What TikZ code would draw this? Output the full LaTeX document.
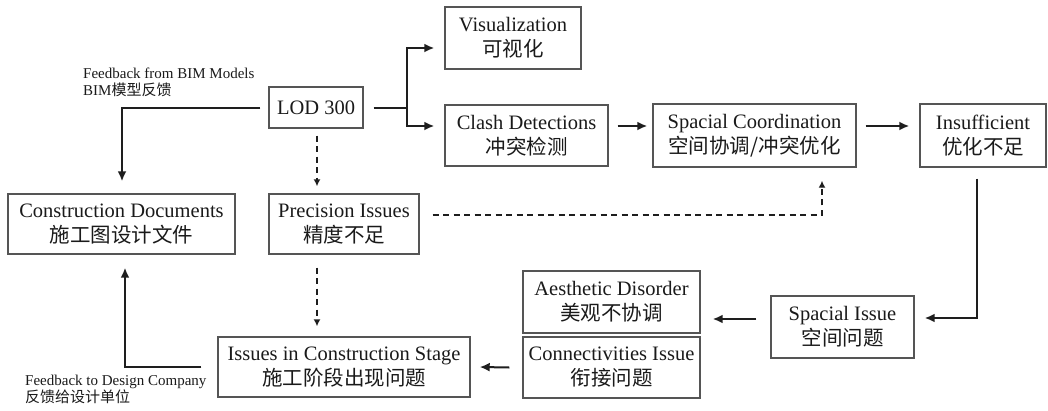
\documentclass[tikz,border=0pt]{standalone}
\usepackage{fontspec}
\setmainfont{Liberation Serif}
\newfontfamily\cjk{Noto Sans CJK SC}
\usetikzlibrary{arrows.meta,calc}
\definecolor{boxgray}{HTML}{555555}
\definecolor{linec}{HTML}{1E1E1E}
\definecolor{txt}{HTML}{1A1A1A}
\begin{document}
\begin{tikzpicture}[x=1pt,y=-1pt,
  box/.style={draw=boxgray, line width=1.4pt, inner sep=0pt, align=center, text=txt, font=\fontsize{20.5}{25}\selectfont},
  arr/.style={draw=linec, line width=2pt, -{Latex[length=10pt,width=9pt]}},
  darr/.style={draw=linec, line width=1.6pt, dash pattern=on 6pt off 4.5pt, -{Latex[length=7pt,width=7pt]}},
  lbl/.style={align=left, text=txt, font=\fontsize{15}{17}\selectfont, inner sep=0pt}]
\useasboundingbox (0,0) rectangle (1048,410);
\fill[white] (0,0) rectangle (1048,410);
% boxes
\node[box, minimum width=136pt, minimum height=62pt] (vis) at (513,38) {Visualization\\{\cjk 可视化}};
\node[box, minimum width=94pt, minimum height=41pt] (lod) at (316,107.5) {LOD 300};
\node[box, minimum width=163pt, minimum height=61pt] (clash) at (526.5,135.5) {Clash Detections\\{\cjk 冲突检测}};
\node[box, minimum width=203pt, minimum height=63pt] (sc) at (754.5,135.5) {Spacial Coordination\\{\cjk 空间协调/冲突优化}};
\node[box, minimum width=126pt, minimum height=63pt] (ins) at (983,135.5) {Insufficient\\{\cjk 优化不足}};
\node[box, minimum width=227pt, minimum height=60pt] (cd) at (121.5,224) {Construction Documents\\{\cjk 施工图设计文件}};
\node[box, minimum width=150pt, minimum height=60pt] (pi) at (344,224) {Precision Issues\\{\cjk 精度不足}};
\node[box, minimum width=252pt, minimum height=60pt] (ics) at (344,367) {Issues in Construction Stage\\{\cjk 施工阶段出现问题}};
\node[box, minimum width=177pt, minimum height=62pt] (ad) at (611.5,302) {Aesthetic Disorder\\{\cjk 美观不协调}};
\node[box, minimum width=177pt, minimum height=61pt] (ci) at (611.5,367.5) {Connectivities Issue\\{\cjk 衔接问题}};
\node[box, minimum width=143pt, minimum height=62pt] (si) at (842.5,327) {Spacial Issue\\{\cjk 空间问题}};
% labels
\node[lbl, anchor=north west] (fb1) at (83,68) {Feedback from BIM Models\\BIM{\cjk 模型反馈}};
\node[lbl, anchor=north west] (fb2) at (25,375) {Feedback to Design Company\\{\cjk 反馈给设计单位}};
% connectors
\coordinate (br) at ($(lod.east)+(43,0)$);
\draw[draw=linec, line width=2pt] ($(lod.east)+(10,0)$) -- (br);
\draw[arr] ($(br)+(0,1)$) |- ($(vis.west)+(-10,10)$);
\draw[arr] ($(br)+(0,-1)$) |- ($(clash.west)+(-10,-9.5)$);
\draw[arr] ($(clash.east)+(9,-9.5)$) -- ($(sc.west)+(-5,-9.5)$);
\draw[arr] ($(sc.east)+(9,-9.5)$) -- ($(ins.west)+(-10,-9.5)$);
\draw[arr] ($(ins.south)+(-6,11)$) |- ($(si.east)+(10,-9)$);
\draw[arr] ($(si.west)+(-14,-8)$) -- ($(ad.east)+(12,17)$);
\draw[arr] ($(ci.west)+(-13,0)$) -- ($(ics.east)+(9,0)$);
\draw[arr] ($(ics.west)+(-16,0)$) -| ($(cd.south)+(3.5,13)$);
\draw[arr] ($(lod.west)+(-8,0)$) -| ($(cd.north)+(0.5,-12)$);
\draw[darr] ($(lod.south)+(1,7)$) -- ($(lod.south |- pi.north)+(1,-7)$);
\draw[darr] ($(lod.south |- pi.south)+(1,13)$) -- ($(lod.south |- ics.north)+(1,-10)$);
\draw[darr] ($(pi.east)+(13,-9)$) -| ($(sc.south)+(67.5,13)$);
\end{tikzpicture}
\end{document}
